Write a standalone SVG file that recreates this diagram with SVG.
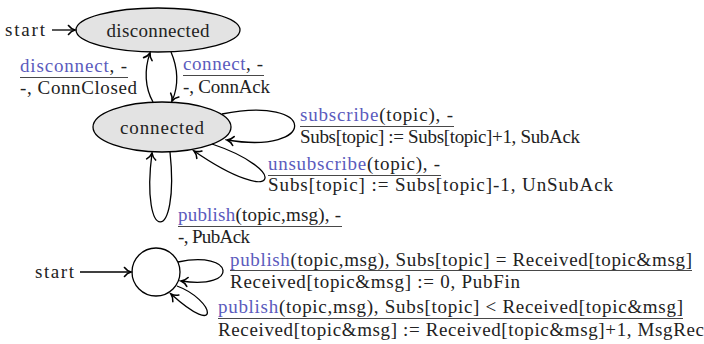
<svg xmlns="http://www.w3.org/2000/svg" width="704" height="344" viewBox="0 0 704 344">
<style>
text{font-family:'Liberation Serif',serif;font-size:19px;fill:#222}
.b{fill:#5b5bbd}
.st{fill:#e3e3e3;stroke:#000;stroke-width:1.3}
.e{fill:none;stroke:#000;stroke-width:1.3}
.fr{stroke:#333;stroke-width:0.9}
</style>
<defs>
<marker id="ar" markerUnits="userSpaceOnUse" viewBox="-8 -6 10 12" refX="0" refY="0" markerWidth="10" markerHeight="12" orient="auto">
<path d="M-6.5,-4.5 C-4.5,-1.8 -1.5,-0.4 0,0 C-1.5,0.4 -4.5,1.8 -6.5,4.5" fill="none" stroke="#000" stroke-width="1.6" stroke-linecap="round"/>
</marker>
</defs>
<g id="start1"><text x="5" y="36" font-family="Liberation Serif" textLength="40">start</text></g>
<g id="disconnected"><ellipse class="st" cx="158" cy="30" rx="82" ry="22"/><text x="158" y="37" text-anchor="middle" font-family="Liberation Serif" textLength="103">disconnected</text></g>
<g id="connected"><ellipse class="st" cx="162" cy="127" rx="69" ry="25"/><text x="162" y="134" text-anchor="middle" font-family="Liberation Serif" textLength="84">connected</text></g>
<g id="start2"><text x="35" y="278" font-family="Liberation Serif" textLength="39">start</text></g>
<g id="init"><circle class="st" cx="156" cy="272" r="24" style="fill:#fff"/></g>
<g id="connectors">
<path class="e" marker-end="url(#ar)" d="M52,30 L75,30"/>
<path class="e" marker-end="url(#ar)" d="M153,102 C145,88 144,70 150,53"/>
<path class="e" marker-end="url(#ar)" d="M171,52 C178,68 179,86 172,101"/>
<path class="e" marker-end="url(#ar)" d="M222,114 C318,95 318,155 227,140"/>
<path class="e" marker-end="url(#ar)" d="M212,144 C290,170 280,210 194,151"/>
<path class="e" marker-end="url(#ar)" d="M170,152 C180,245 140,245 152,153"/>
<path class="e" marker-end="url(#ar)" d="M80,272 L131,272"/>
<path class="e" marker-end="url(#ar)" d="M178,262 C235,250 240,290 181,281"/>
<path class="e" marker-end="url(#ar)" d="M177,286 C215,300 222,340 171,294"/>
</g>
<g id="labels" font-family="Liberation Serif">
<text x="20" y="72" textLength="107"><tspan class="b">disconnect</tspan>, -</text>
<line class="fr" x1="20" y1="77.5" x2="128" y2="77.5"/>
<text x="20" y="94" textLength="117">-, ConnClosed</text>
<text x="183" y="70" textLength="80"><tspan class="b">connect</tspan>, -</text>
<line class="fr" x1="183" y1="75.5" x2="264" y2="75.5"/>
<text x="183" y="93" textLength="87">-, ConnAck</text>
<text x="300" y="121" textLength="153"><tspan class="b">subscribe</tspan>(topic), -</text>
<line class="fr" x1="300" y1="126.5" x2="454" y2="126.5"/>
<text x="300" y="143" textLength="280">Subs[topic] := Subs[topic]+1, SubAck</text>
<text x="268" y="170" textLength="172"><tspan class="b">unsubscribe</tspan>(topic), -</text>
<line class="fr" x1="268" y1="175.5" x2="441" y2="175.5"/>
<text x="268" y="191" textLength="345">Subs[topic] := Subs[topic]-1, UnSubAck</text>
<text x="178" y="221" textLength="163"><tspan class="b">publish</tspan>(topic,msg), -</text>
<line class="fr" x1="178" y1="226.5" x2="342" y2="226.5"/>
<text x="178" y="243" textLength="72">-, PubAck</text>
<text x="230" y="266" textLength="462"><tspan class="b">publish</tspan>(topic,msg), Subs[topic] = Received[topic&amp;msg]</text>
<line class="fr" x1="230" y1="270.5" x2="692" y2="270.5"/>
<text x="230" y="288" textLength="290">Received[topic&amp;msg] := 0, PubFin</text>
<text x="218" y="313" textLength="465"><tspan class="b">publish</tspan>(topic,msg), Subs[topic] &lt; Received[topic&amp;msg]</text>
<line class="fr" x1="218" y1="318.5" x2="683" y2="318.5"/>
<text x="218" y="336" textLength="486">Received[topic&amp;msg] := Received[topic&amp;msg]+1, MsgRec</text>
</g>
</svg>
